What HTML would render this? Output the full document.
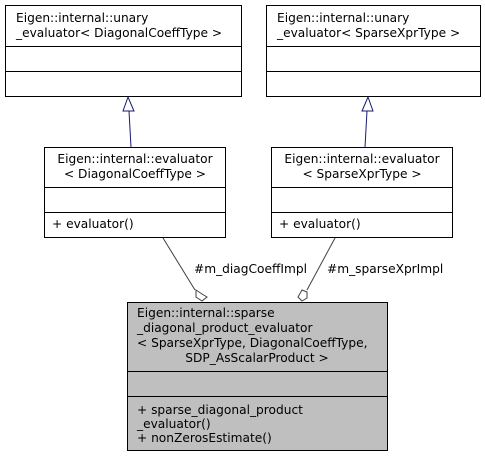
<!DOCTYPE html>
<html><head><style>
body{margin:0;background:#fff;}
svg text{font-family:"DejaVu Sans","Liberation Sans",sans-serif;font-size:12.2px;fill:#000;}
</style></head><body>
<svg width="485" height="457" xmlns="http://www.w3.org/2000/svg">
<g stroke="#000" stroke-width="1" fill="#fff">
<rect x="5.5" y="5.5" width="236" height="91"/>
<line x1="5.5" y1="46.5" x2="241.5" y2="46.5"/><line x1="5.5" y1="71.5" x2="241.5" y2="71.5"/>
<rect x="266.5" y="5.5" width="214" height="91"/>
<line x1="266.5" y1="46.5" x2="480.5" y2="46.5"/><line x1="266.5" y1="71.5" x2="480.5" y2="71.5"/>
<rect x="44.5" y="147.5" width="181" height="90"/>
<line x1="44.5" y1="187.5" x2="225.5" y2="187.5"/><line x1="44.5" y1="212.5" x2="225.5" y2="212.5"/>
<rect x="271.5" y="147.5" width="181" height="90"/>
<line x1="271.5" y1="187.5" x2="452.5" y2="187.5"/><line x1="271.5" y1="212.5" x2="452.5" y2="212.5"/>
<rect x="127.5" y="302.5" width="260" height="148" fill="#bfbfbf"/>
<line x1="127.5" y1="371.5" x2="387.5" y2="371.5"/><line x1="127.5" y1="396.5" x2="387.5" y2="396.5"/>
</g>
<g stroke="#191970" fill="#fff">
<line x1="131" y1="147" x2="129" y2="111"/>
<polygon points="128,97 123,111 134,111"/>
<line x1="365" y1="147" x2="367" y2="111"/>
<polygon points="368,97 362,111 373,111"/>
</g>
<g stroke="#404040" fill="#fff">
<line x1="163" y1="238" x2="195" y2="290"/>
<polygon points="202,301 196,297 196,290 202,294 207,297"/>
<line x1="335" y1="238" x2="307" y2="290"/>
<polygon points="302,301 298,297 302,290 307,292 307,298"/>
</g>
<text x="16" y="22">Eigen::internal::unary</text>
<text x="16" y="37">_evaluator&lt; DiagonalCoeffType &gt;</text>
<text x="277" y="22">Eigen::internal::unary</text>
<text x="277" y="37">_evaluator&lt; SparseXprType &gt;</text>
<text x="135" y="163" text-anchor="middle">Eigen::internal::evaluator</text>
<text x="135" y="178" text-anchor="middle">&lt; DiagonalCoeffType &gt;</text>
<text x="52" y="228">+ evaluator()</text>
<text x="362" y="163" text-anchor="middle">Eigen::internal::evaluator</text>
<text x="362" y="178" text-anchor="middle">&lt; SparseXprType &gt;</text>
<text x="279" y="228">+ evaluator()</text>
<text x="194" y="273">#m_diagCoeffImpl</text>
<text x="327" y="273">#m_sparseXprImpl</text>
<text x="137" y="317">Eigen::internal::sparse</text>
<text x="137" y="332">_diagonal_product_evaluator</text>
<text x="137" y="347">&lt; SparseXprType, DiagonalCoeffType,</text>
<text x="257" y="362" text-anchor="middle">SDP_AsScalarProduct &gt;</text>
<text x="137" y="414">+ sparse_diagonal_product</text>
<text x="137" y="428">_evaluator()</text>
<text x="137" y="442">+ nonZerosEstimate()</text>
</svg>
</body></html>
